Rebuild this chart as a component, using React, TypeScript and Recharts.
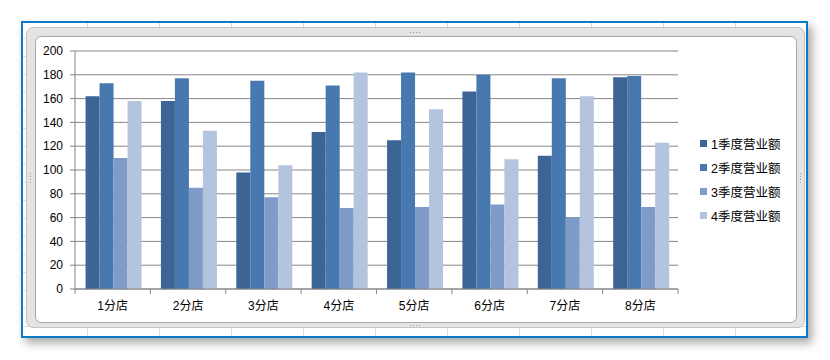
import React from 'react';
import { BarChart, Bar, XAxis, YAxis, CartesianGrid, Legend } from 'recharts';

const stores = ['1分店', '2分店', '3分店', '4分店', '5分店', '6分店', '7分店', '8分店'];
const seriesNames = ['1季度营业额', '2季度营业额', '3季度营业额', '4季度营业额'];
const q1 = [162, 158, 98, 132, 125, 166, 112, 178];
const q2 = [173, 177, 175, 171, 182, 180, 177, 179];
const q3 = [110, 85, 77, 68, 69, 71, 60, 69];
const q4 = [158, 133, 104, 182, 151, 109, 162, 123];
const yTicks = [0, 20, 40, 60, 80, 100, 120, 140, 160, 180, 200];
const colors = ['#3C6595', '#4878B0', '#7F9CC8', '#B4C3DE'];

const seriesValues = [q1, q2, q3, q4];
const keys = ['q1', 'q2', 'q3', 'q4'];
const data = stores.map((s, i) => {
  const row: Record<string, string | number> = { store: s };
  keys.forEach((k, j) => {
    row[k] = seriesValues[j][i];
  });
  return row;
});

const CHART_W = 762;
const CHART_H = 287;
const Y_W = 40;
const LEGEND_W = 119;
const PLOT_W = CHART_W - Y_W - LEGEND_W;
const BAND = PLOT_W / stores.length;
const X_TICK_SIZE = 5;
const X_TICK_MARGIN = 4;
const AXIS_GRAY = '#868686';
const FONT = '"Liberation Sans", "Noto Sans CJK SC", sans-serif';

function XTick(props: any) {
  const { x, y, payload, index } = props;
  const axisY = y - X_TICK_SIZE - X_TICK_MARGIN;
  const left = x - BAND / 2;
  const right = x + BAND / 2;
  return (
    <g>
      <line x1={left} x2={left} y1={axisY} y2={axisY + 5} stroke={AXIS_GRAY} />
      {index === stores.length - 1 && (
        <line x1={right} x2={right} y1={axisY} y2={axisY + 5} stroke={AXIS_GRAY} />
      )}
      <text
        x={x}
        y={axisY + 18}
        textAnchor="middle"
        dominantBaseline="middle"
        fontSize={12}
        fill="#000"
        fontFamily={FONT}
      >
        {payload.value}
      </text>
    </g>
  );
}

function renderLegend(props: any) {
  const { payload } = props;
  return (
    <div style={{ paddingLeft: 22, fontFamily: FONT }}>
      {(payload || []).map((e: any, i: number) => (
        <div
          key={i}
          style={{ display: 'flex', alignItems: 'center', height: 24, fontSize: 12.5, color: '#000', whiteSpace: 'nowrap' }}
        >
          <span style={{ display: 'inline-block', width: 7, height: 7, background: e.color, marginRight: 4 }} />
          <span>{e.value}</span>
        </div>
      ))}
    </div>
  );
}

function Grip({ x, y, vertical }: { x: number; y: number; vertical?: boolean }) {
  const dots = [0, 1, 2, 3];
  return (
    <>
      {dots.map((d) => (
        <div
          key={d}
          style={{
            position: 'absolute',
            left: vertical ? x : x + d * 3,
            top: vertical ? y + d * 3 : y,
            width: 1,
            height: 1,
            background: '#9a9a9a',
          }}
        />
      ))}
    </>
  );
}

export default function App() {
  return (
    <div style={{ position: 'absolute', left: 0, top: 0, width: 830, height: 360, background: '#fff', overflow: 'hidden' }}>
      <div
        style={{
          position: 'absolute',
          left: 21,
          top: 21,
          width: 787,
          height: 317,
          boxSizing: 'border-box',
          border: '2px solid #0B7AC8',
          boxShadow: '4px 5px 9px rgba(0,0,0,0.35)',
          backgroundColor: '#fff',
          backgroundImage:
            'linear-gradient(to right, #dcdcdc 1px, transparent 1px), linear-gradient(to bottom, #dcdcdc 1px, transparent 1px)',
          backgroundSize: '72px 100%, 100% 18px',
          backgroundPosition: '64px 0, 0 15px',
        }}
      />
      <div
        style={{
          position: 'absolute',
          left: 26,
          top: 27,
          width: 779,
          height: 301,
          boxSizing: 'border-box',
          background: '#e4e4e4',
          border: '1px solid #c4c4c4',
          borderRadius: 7,
        }}
      />
      <Grip x={410} y={32} />
      <Grip x={410} y={325} />
      <Grip x={30} y={173} vertical />
      <Grip x={800} y={173} vertical />
      <div
        style={{
          position: 'absolute',
          left: 35,
          top: 36,
          width: CHART_W,
          height: CHART_H,
          boxSizing: 'border-box',
          background: '#fff',
          border: '1px solid #a8a8a8',
          borderRadius: 6,
        }}
      />
      <div style={{ position: 'absolute', left: 35, top: 36, width: CHART_W, height: CHART_H }}>
        <BarChart
          width={CHART_W}
          height={CHART_H}
          data={data}
          margin={{ top: 15, right: 0, bottom: 4, left: 0 }}
          barGap={0}
          barCategoryGap="14%"
          style={{ fontFamily: FONT }}
        >
          <CartesianGrid vertical={false} stroke={AXIS_GRAY} />
          <XAxis
            dataKey="store"
            interval={0}
            height={30}
            tickLine={false}
            tickSize={X_TICK_SIZE}
            tickMargin={X_TICK_MARGIN}
            axisLine={{ stroke: AXIS_GRAY }}
            tick={<XTick />}
          />
          <YAxis
            width={Y_W}
            domain={[0, 200]}
            ticks={yTicks}
            interval={0}
            tickSize={5}
            tickMargin={7}
            axisLine={{ stroke: AXIS_GRAY }}
            tickLine={{ stroke: AXIS_GRAY }}
            tick={{ fontSize: 12, fill: '#000', fontFamily: FONT }}
          />
          <Legend
            layout="vertical"
            align="right"
            verticalAlign="middle"
            width={LEGEND_W}
            wrapperStyle={{ width: LEGEND_W }}
            content={renderLegend}
          />
          {keys.map((k, j) => (
            <Bar key={k} dataKey={k} name={seriesNames[j]} fill={colors[j]} isAnimationActive={false} />
          ))}
        </BarChart>
      </div>
    </div>
  );
}
